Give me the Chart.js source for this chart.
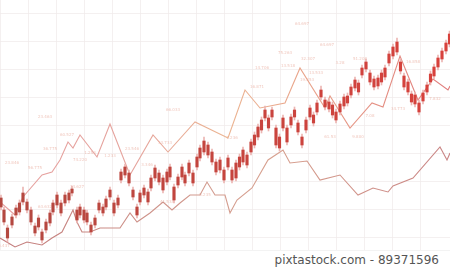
<!DOCTYPE html>
<html><head><meta charset="utf-8">
<script src="https://cdn.jsdelivr.net/npm/chart.js@4"></script>
<style>
html,body{margin:0;padding:0;background:#fff;width:450px;height:269px;overflow:hidden}
#wrap{position:relative;width:450px;height:250px}
#credit{height:19px;line-height:19px;text-align:right;padding-right:11px;font-family:"DejaVu Sans",sans-serif;font-size:12px;color:#555;box-sizing:border-box;border-top:1px solid #f3f3f3}
</style></head><body>
<div id="wrap"><canvas id="c" width="450" height="250"></canvas></div>
<div id="credit">pixtastock.com - 89371596</div>
<script>
// ---- candle data (time position, body top/bottom, wick high/low) ----
const candleTimes = [1,4,7.5,12,16,19.5,23,27,31,35,
 38.5,42,46,50,53,57,61,65,69,72,
 77,80,84,87,91,95,99,103,106,110,
 114,118,121,125,129,133,137,140,144,148,
 151,155,159,163,167,170,174,178,182,185,
 189,193,197,200,204,208,212,216,220,224,
 228,232,236,239.5,243,247,251,254.5,258,261.5,
 265,268.5,272,276,279.5,283,287,291,294.5,298,
 302,306,310,313.5,317,321,325,329,332.5,336,
 340,344,347.5,351,355,358.5,362,366,370,374,
 378,381.5,385,389,393,397,400.5,404,408,411.5,
 415,419,423,427,430.5,434,438,442,446,449.5];
const candleTop = [52,40,22,33,42,47,57,48,40,24,
 32,18,28,37,47,55,47,55,57,61,
 40,43,40,37,25,32,47,43,51,60,
 47,52,78,83,77,60,43,57,62,58,
 72,82,77,72,78,83,63,73,83,75,
 87,77,93,102,109,105,98,88,90,80,
 92,80,87,93,100,95,108,115,123,130,
 140,132,140,122,113,132,122,133,140,127,
 113,130,142,135,147,160,150,148,145,138,
 146,153,154,163,170,167,182,188,177,171,
 172,177,182,196,203,208,188,174,168,156,
 155,147,157,165,176,183,192,199,207,216];
const candleBottom = [43,28,12,25,35,38,48,40,28,17,
 23,10,20,27,38,45,37,47,50,57,
 30,35,30,28,18,25,40,37,43,53,
 37,45,70,75,67,53,35,48,55,48,
 62,72,68,60,68,73,50,65,73,67,
 77,67,83,92,98,95,88,78,80,70,
 83,70,72,83,88,85,98,105,113,120,
 132,122,133,105,102,122,108,125,133,118,
 105,120,133,127,138,153,143,141,135,130,
 138,144,147,155,162,158,175,181,168,163,
 164,168,173,187,194,198,179,163,158,148,
 146,138,149,158,168,174,183,191,199,206];
const candleHigh = [55,43,25,36,45,50,63,51,43,27,
 35,21,31,40,50,58,50,58,60,64,
 43,46,43,40,28,35,50,46,54,63,
 50,55,81,86,80,63,46,60,65,61,
 75,85,80,75,81,86,66,76,86,78,
 90,80,96,105,113,108,101,91,93,83,
 95,83,90,96,103,98,111,118,126,133,
 144,135,143,125,116,135,125,136,143,130,
 116,133,145,138,150,164,153,151,148,141,
 149,156,157,166,173,170,185,191,180,174,
 175,180,185,199,206,212,191,177,171,159,
 158,150,160,168,179,186,195,202,210,219];
const candleLow = [40,25,8,22,32,35,45,37,25,14,
 20,7,17,24,35,42,34,44,47,54,
 27,32,27,25,15,22,37,34,40,50,
 34,42,67,72,64,50,32,45,52,45,
 59,69,65,57,65,70,47,62,70,64,
 74,64,80,89,95,92,85,75,77,67,
 80,67,69,80,85,82,95,102,110,117,
 129,119,130,102,99,119,105,122,130,115,
 102,117,130,124,135,150,140,138,132,127,
 135,141,144,152,159,155,172,178,165,160,
 161,165,170,184,191,195,176,160,155,145,
 143,135,146,155,165,171,180,188,196,203];

// ---- upper trend line ----
const upperLineX = [0,15,23,42,52,60,68,73,80,97,110,130,153,168,195,228,245,260,285,300,325,330,350,372,383,400,418,433,448,450];
const upperLineY = [48,35,53,75,78,90,108,102,115,93,126,75,115,98,128,112,160,142,147,182,142,154,122,147,143,194,150,171,160,164];

// ---- lower trend line ----
const lowerLineX = [0,15,27,42,52,62,73,77,82,90,100,120,130,137,150,163,172,180,190,200,207,215,225,230,237,252,268,283,290,307,320,340,358,373,388,393,413,440,447,450];
const lowerLineY = [12,3,8,5,12,18,40,28,18,18,22,22,37,28,37,48,40,47,55,55,68,55,55,37,50,62,90,100,87,89,70,75,55,62,58,64,72,103,90,97];

// ---- small value labels scattered on the chart ----
const labelTexts = ["23.846","56.775","36.775","60.527","74.220","1.253","1.233","34.627","63.632","23.546","3.346","5.437","23.463","66.033","33.733","1.236","64.697","64.697","75.263","32.307","13.518","14.706","19.253","13.533","16.871","3.28","51.208","16.858","7.08","9.800","34.773","7.832","61.53","41.538","5.235"];
const labelX = [12,35,50,67,80,90,110,77,45,132,147,4,45,173,165,232,302,327,285,308,288,262,307,316,257,340,360,413,370,358,398,435,330,167,205];
const labelY = [87,82,101,115,90,97,94,63,43,101,85,4,133,140,107,112,226,205,197,191,184,182,170,177,163,187,191,188,134,113,141,151,113,48,55];

// ---- grid values ----
const xGridStep = 28;
const yGridValues = [13,41,69,97,125,153,181,209,237];

function hexToRgb(h){h=h.replace('#','');return [parseInt(h.slice(0,2),16),parseInt(h.slice(2,4),16),parseInt(h.slice(4,6),16)];}
function mix(a,b,t){const A=hexToRgb(a),B=hexToRgb(b);return 'rgb('+A.map((v,i)=>Math.round(v+(B[i]-v)*t)).join(',')+')';}

function makeGrad(chart, stops){
  const ca = chart.chartArea;
  if(!ca) return stops[0][1];
  const g = chart.ctx.createLinearGradient(ca.left,0,ca.right,0);
  stops.forEach(s=>g.addColorStop(s[0],s[1]));
  return g;
}

const bodyData = candleTimes.map((t,i)=>({x:t, y:[candleBottom[i], candleTop[i]]}));
const wickData = candleTimes.map((t,i)=>({x:t, y:[candleLow[i], candleHigh[i]]}));
const upperData = upperLineX.map((x,i)=>({x:x, y:upperLineY[i]}));
const lowerData = lowerLineX.map((x,i)=>({x:x, y:lowerLineY[i]}));

const labelPlugin = {
  id:'valueLabels',
  beforeDatasetsDraw(chart){
    const {ctx, scales:{x, y}} = chart;
    ctx.save();
    ctx.font = '4px "DejaVu Sans", sans-serif';
    ctx.fillStyle = 'rgba(228,150,132,0.55)';
    ctx.textAlign = 'center';
    ctx.textBaseline = 'middle';
    labelTexts.forEach((t,i)=>ctx.fillText(t, x.getPixelForValue(labelX[i]), y.getPixelForValue(labelY[i])));
    ctx.restore();
  }
};

const gridColor = 'rgba(240,234,234,0.7)';

new Chart(document.getElementById('c'), {
  type:'bar',
  data:{datasets:[
    {type:'line', data:upperData, borderWidth:1.1, pointRadius:0, tension:0, order:4,
     borderColor:(c)=>makeGrad(c.chart,[[0,'#e6a0a0'],[0.3,'#e5a39c'],[0.5,'#ebb491'],[0.66,'#e9a58b'],[1,'#e07c7c']])},
    {type:'line', data:lowerData, borderWidth:1.1, pointRadius:0, tension:0, order:4,
     borderColor:(c)=>makeGrad(c.chart,[[0,'#c27a7a'],[0.45,'#d29a8e'],[0.6,'#d7a08e'],[1,'#c98484']])},
    {type:'bar', data:wickData, barThickness:1, grouped:false, order:2,
     backgroundColor:'#ecb6b3'},
    {type:'bar', data:bodyData, barThickness:2.5, grouped:false, order:1,
     backgroundColor:(c)=>mix('#b34840','#d8413c', (c.dataIndex||0)/(candleTimes.length-1))}
  ]},
  options:{
    responsive:false, animation:false, devicePixelRatio:1,
    layout:{padding:0},
    plugins:{legend:{display:false}, tooltip:{enabled:false}},
    scales:{
      x:{type:'linear', min:0, max:450, offset:false,
         ticks:{display:false, stepSize:xGridStep},
         grid:{color:gridColor, drawTicks:false, offset:false},
         border:{display:false}},
      y:{type:'linear', min:0, max:250,
         ticks:{display:false},
         afterBuildTicks:(s)=>{s.ticks = yGridValues.map(v=>({value:v}));},
         grid:{color:gridColor, drawTicks:false},
         border:{display:false}}
    }
  },
  plugins:[labelPlugin]
});
</script>
</body></html>
